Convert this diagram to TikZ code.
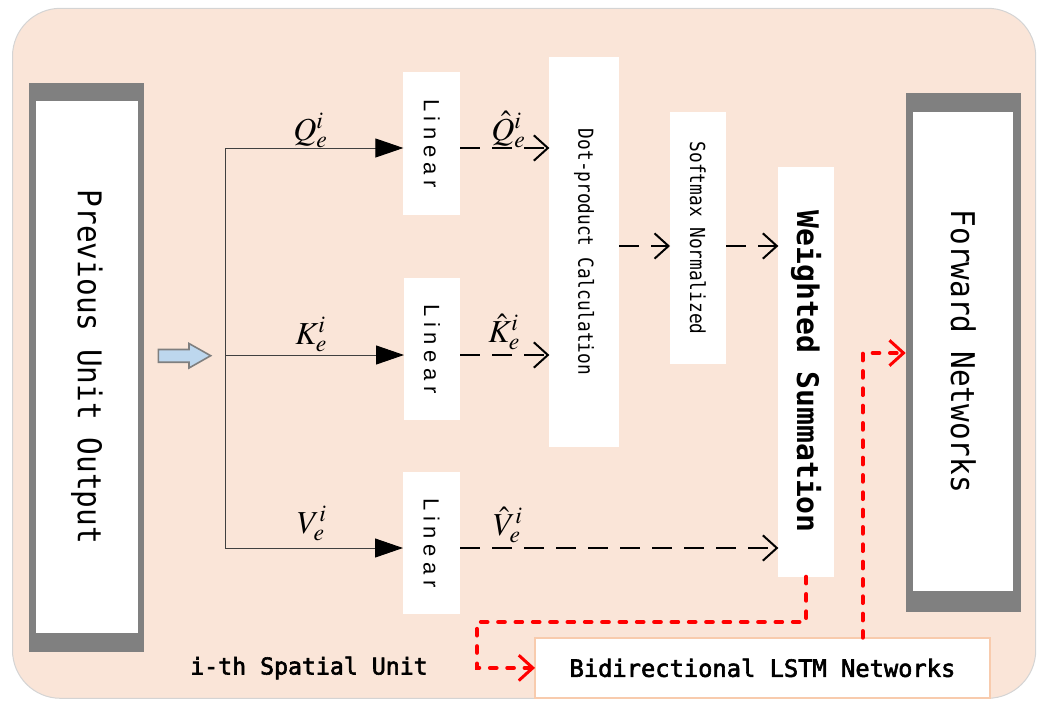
\documentclass[tikz,border=0pt]{standalone}
\usepackage{mathptmx}
\usepackage{fontspec}
\usetikzlibrary{arrows.meta}
\newfontfamily\monof{DejaVu Sans Mono}
\newfontfamily\monomed[FakeBold=2.5]{DejaVu Sans Mono}
\newfontfamily\linf[LetterSpace=25]{Liberation Sans}
\definecolor{bgc}{HTML}{FAE5D8}
\definecolor{bgline}{HTML}{D4D4D4}
\definecolor{framegray}{HTML}{808080}
\definecolor{lstmline}{HTML}{F8CBAD}
\definecolor{arrowblue}{HTML}{BDD7EE}
\definecolor{arrowedge}{HTML}{7F7F7F}
\definecolor{redline}{HTML}{FF0000}
\definecolor{thinblack}{HTML}{404040}
\tikzset{
  frameouter/.style={fill=framegray, draw=none, inner sep=0pt, outer sep=0pt},
  whitebox/.style={fill=white, draw=none, inner sep=0pt, outer sep=0pt},
  lstmbox/.style={fill=white, draw=lstmline, line width=1.5pt, inner sep=0pt, outer sep=0pt},
  thinline/.style={draw=thinblack, line width=0.75pt},
  solidarrow/.style={thinline, -{Triangle[length=21pt, width=14.25pt, color=black]}},
  dasharrow/.style={draw=black, line width=1.5pt, dash pattern=on 15pt off 9pt, -{Straight Barb[length=10.5pt, width=19pt, line width=1.5pt]}},
  redarrow/.style={draw=redline, line width=3pt, line cap=round, dash pattern=on 5pt off 8pt},
  redtip/.style={-{Straight Barb[length=10.5pt, width=19pt, line width=2.25pt]}},
  mathlabel/.style={anchor=base west, inner sep=0pt, font=\fontsize{24}{26}\selectfont},
}
\begin{document}
\begin{tikzpicture}[x=0.75pt, y=-0.75pt]
\useasboundingbox (0,0) rectangle (1042,700);
% background
\draw[fill=bgc, draw=bgline, line width=0.75pt, rounded corners=36pt] (12.5,8.3) rectangle (1035.7,698.3);

% previous unit output
\node[frameouter, minimum width=114.7*0.75pt, minimum height=569*0.75pt] (prev) at (86.7,367.8) {};
\node[whitebox, minimum width=102.6*0.75pt, minimum height=531.7*0.75pt] (prevtxt) at (87,366.9)
  {\rotatebox{-90}{\scalebox{0.9}[1]{\monof\fontsize{24.5}{26}\selectfont Previous Unit Output}}};

% forward networks
\node[frameouter, minimum width=115*0.75pt, minimum height=519.6*0.75pt] (fwd) at (963.2,352.5) {};
\node[whitebox, minimum width=100*0.75pt, minimum height=479.3*0.75pt] (fwdtxt) at (963.3,351.4)
  {\rotatebox{-90}{\scalebox{0.9}[1]{\monof\fontsize{24.5}{26}\selectfont Forward Networks}}};

% linear boxes
\node[whitebox, minimum width=56.7*0.75pt, minimum height=142.4*0.75pt] (lq) at (431.7,143.5)
  {\rotatebox{-90}{\linf\fontsize{16.5}{18}\selectfont Linear}};
\node[whitebox, minimum width=56*0.75pt, minimum height=141.7*0.75pt] (lk) at (432,349.2)
  {\rotatebox{-90}{\linf\fontsize{16.5}{18}\selectfont Linear}};
\node[whitebox, minimum width=57*0.75pt, minimum height=141.7*0.75pt] (lv) at (431.5,543.2)
  {\rotatebox{-90}{\linf\fontsize{16.5}{18}\selectfont Linear}};

% dot product, softmax, weighted summation
\node[whitebox, minimum width=69.7*0.75pt, minimum height=390.6*0.75pt] (dot) at (584.2,252)
  {\rotatebox{-90}{\scalebox{0.86}[1]{\monof\fontsize{15.5}{17}\selectfont Dot-product Calculation}}};
\node[whitebox, minimum width=56*0.75pt, minimum height=251.7*0.75pt] (sm) at (698,238.2)
  {\rotatebox{-90}{\scalebox{0.86}[1]{\monof\fontsize{15.5}{17}\selectfont Softmax Normalized}}};
\node[whitebox, minimum width=55.7*0.75pt, minimum height=410*0.75pt] (ws) at (806.2,371.7)
  {\rotatebox{-90}{\monof\bfseries\fontsize{22.3}{24}\selectfont Weighted Summation}};

% bidirectional lstm
\node[lstmbox, minimum width=455*0.75pt, minimum height=60.3*0.75pt] (bil) at (762.5,667.9)
  {\monomed\fontsize{17.8}{20}\selectfont Bidirectional LSTM Networks};

% caption
\node[inner sep=0pt] (cap) at (309,668) {\monomed\fontsize{17.4}{20}\selectfont i-th Spatial Unit};

% blue input arrow
\draw[fill=arrowblue, draw=arrowedge, line width=1.2pt, line join=miter]
  (158.3,349.5) -- (189,349.5) -- (189,343.5) -- (210.7,355.7) -- (189,368) -- (189,362.2) -- (158.3,362.2) -- cycle;

% split lines
\coordinate (bq) at (225,148);
\coordinate (bk) at (225,355);
\coordinate (bv) at (225,548);
\coordinate (my) at (0,246);
\draw[thinline] (bq) -- (bv);
\draw[solidarrow] (bq) -- (bq -| lq.west);
\draw[solidarrow] (bk) -- (bk -| lk.west);
\draw[solidarrow] (bv) -- (bv -| lv.west);

% labels
\node[mathlabel] (lblq) at (293,140) {$Q_e^i$};
\node[mathlabel] (lblk) at (295,344) {$K_e^i$};
\node[mathlabel] (lblv) at (297,533) {$V_e^i$};
\node[mathlabel] (lblqh) at (491,140) {$\hat{Q}_e^i$};
\node[mathlabel] (lblkh) at (488,342) {$\hat{K}_e^i$};
\node[mathlabel] (lblvh) at (493,535) {$\hat{V}_e^i$};

% dashed arrows
\draw[dasharrow] (lq.east |- bq) -- (dot.west |- bq);
\draw[dasharrow] (lk.east |- bk) -- (dot.west |- bk);
\draw[dasharrow] (lv.east |- bv) -- (ws.west |- bv);
\draw[dasharrow] (dot.east |- my) -- (sm.west |- my);
\draw[dasharrow] (sm.east |- my) -- (ws.west |- my);

% red dotted connectors
\coordinate (rc1) at (477,622);
\coordinate (rs2) at (862.7,637.7);
\coordinate (rc2) at (862.7,353);
\draw[redarrow, redtip] (ws.south) |- (rc1) |- (bil.west);
\draw[redarrow, redtip] (rs2) -- (rc2) -- (rc2 -| fwd.west);
\end{tikzpicture}
\end{document}
